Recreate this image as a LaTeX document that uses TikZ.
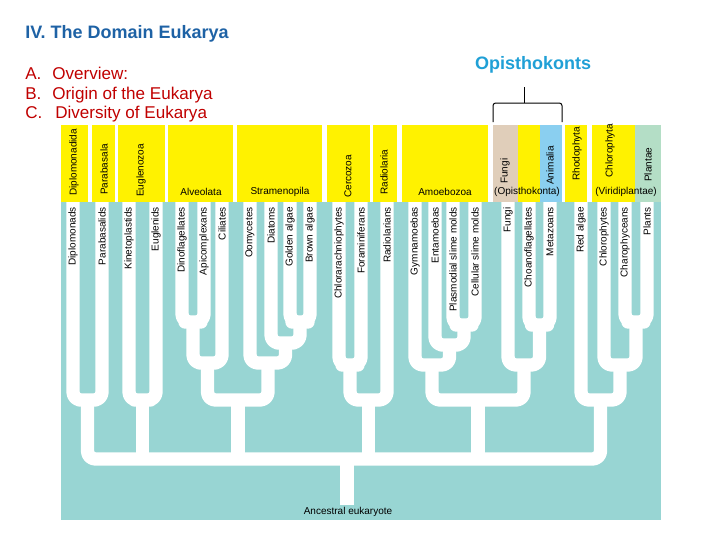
\documentclass[tikz,border=0pt]{standalone}
\usepackage{fontspec}
\setmainfont{Liberation Sans}
\usetikzlibrary{
  positioning,
  calc
  }
\definecolor{sea}{RGB}{152,213,211}
\definecolor{hdr}{RGB}{255,242,0}
\definecolor{fungtan}{RGB}{224,206,186}
\definecolor{animblue}{RGB}{138,207,240}
\definecolor{plantgreen}{RGB}{180,222,198}
\definecolor{titleblue}{RGB}{30,98,165}
\definecolor{listred}{RGB}{192,0,0}
\definecolor{opiblue}{RGB}{32,160,214}
\tikzset{
  branch/.style={draw=white, line width=10pt, line join=round, rounded corners=6pt},
  lab/.style={inner sep=0pt, font=\fontsize{7.5}{9}\selectfont},
  leaf/.style={lab, rotate=90, anchor=east},
  grprot/.style={lab, rotate=90, anchor=west},
  item/.style={anchor=base west, inner sep=0pt, text=listred, font=\fontsize{12.8}{15}\selectfont},
  headline/.style={anchor=base, inner sep=0pt, font=\fontsize{13.5}{16}\selectfont\bfseries},
}

\begin{document}
\begin{tikzpicture}[x=0.75pt, y=-0.75pt]
\useasboundingbox (0,0) rectangle (720,540);
% =========================================================
% (A) title and outline
% =========================================================
  \node[headline, anchor=base west, text=titleblue] (title) at (25,38) {IV. The Domain Eukarya};
  \node[item] (itA) at (25,79) {A.};
  \node[item] (itAt) at (52,79) {Overview:};
  \node[item] (itB) at (25,99) {B.};
  \node[item] (itBt) at (52,99) {Origin of the Eukarya};
  \node[item] (itC) at (25,118) {C.};
  \node[item] (itCt) at (55,118) {Diversity of Eukarya};
  \node[headline, text=opiblue] (opi) at (533,69) {Opisthokonts};
  % bracket over fungi and animals
  \coordinate (brL) at (493,122);
  \coordinate (brR) at (562,122);
  \coordinate (brM) at (524,103);
  \coordinate (brT) at (524,87);
  \draw[line width=0.75pt, rounded corners=2pt] (brL) |- (brM) -| (brR);
  \draw[line width=0.75pt] (brM) -- (brT);
% =========================================================
% (B) group header
% =========================================================
  \foreach \a/\b in {61/88, 92/115, 118/165, 168/233, 237/322, 327/370,
                     373/397, 402/488, 518/540, 565/587, 592/635}
    \fill[hdr] (\a,125) rectangle (\b,202);
  \fill[fungtan] (493,125) rectangle (518,202);
  \fill[animblue] (540,125) rectangle (562,202);
  \fill[plantgreen] (635,125) rectangle (661,202);
  \foreach \x/\y/\t in {74/196/Diplomonadida, 104/195/Parabasala, 141/197/Euglenozoa,
                        348/198/Cercozoa, 384/195/Radiolaria, 505/184/Fungi,
                        550/185/Animalia, 577/181/Rhodophyta, 610/178/Chlorophyta,
                        648/182/Plantae}
    \node[grprot] (h-\t) at (\x,\y) {\t};
  \node[lab] (h-alv) at (201,192) {Alveolata};
  \node[lab] (h-str) at (280,192) {Stramenopila};
  \node[lab] (h-amo) at (445,192) {Amoebozoa};
  \node[lab] (h-opi) at (527,192) {(Opisthokonta)};
  \node[lab] (h-vir) at (626,192) {(Viridiplantae)};
% =========================================================
% (C) tree
% =========================================================
  \fill[sea] (61,202) rectangle (661,520);
  \foreach \x/\n in {73/dip, 102/para, 129/kin, 156/eug, 182/dino, 204/api, 222/cil,
                     250/oom, 271/dia, 290/gold, 310/brown, 339/chlor, 361/foram,
                     387/radio, 415/gym, 435/ent, 453/plas, 475/cell, 508/fungi,
                     529/choa, 550/meta, 581/red, 604/chlo, 625/chara, 647/plant}
    \coordinate (\n) at (\x,202);
  \coordinate (jdp) at (87.5,400);
  \coordinate (jke) at (142.5,400);
  \coordinate (jda) at (193,322);
  \coordinate (jalv) at (207.5,363);
  \coordinate (jgb) at (300,322);
  \coordinate (jdgb) at (285.5,343);
  \coordinate (jstr) at (268,363);
  \coordinate (jas) at (238,400);
  \coordinate (jcf) at (350,365);
  \coordinate (jrh) at (368.5,400);
  \coordinate (jpc) at (464,325);
  \coordinate (jepc) at (449.5,345);
  \coordinate (jamo) at (432,365);
  \coordinate (jcm) at (539.5,325);
  \coordinate (jopi) at (524,365);
  \coordinate (jao) at (478,400);
  \coordinate (jcp) at (636,322);
  \coordinate (jgre) at (620,365);
  \coordinate (jarc) at (600.5,400);
  \coordinate (root) at (347,459);
  \coordinate (anc) at (347,505);
  % excavates
  \draw[branch] (dip) |- (jdp) -| (para);
  \draw[branch] (kin) |- (jke) -| (eug);
  % alveolates and stramenopiles
  \draw[branch] (dino) |- (jda) -| (api);
  \draw[branch] (jda) |- (jalv) -| (cil);
  \draw[branch] (gold) |- (jgb) -| (brown);
  \draw[branch] (dia) |- (jdgb) -| (jgb);
  \draw[branch] (oom) |- (jstr) -| (jdgb);
  \draw[branch] (jalv) |- (jas) -| (jstr);
  % rhizarians
  \draw[branch] (chlor) |- (jcf) -| (foram);
  \draw[branch] (jcf) |- (jrh) -| (radio);
  % amoebozoans and opisthokonts
  \draw[branch] (plas) |- (jpc) -| (cell);
  \draw[branch] (ent) |- (jepc) -| (jpc);
  \draw[branch] (gym) |- (jamo) -| (jepc);
  \draw[branch] (choa) |- (jcm) -| (meta);
  \draw[branch] (fungi) |- (jopi) -| (jcm);
  \draw[branch] (jamo) |- (jao) -| (jopi);
  % red and green algae
  \draw[branch] (chara) |- (jcp) -| (plant);
  \draw[branch] (chlo) |- (jgre) -| (jcp);
  \draw[branch] (red) |- (jarc) -| (jgre);
  % main line and root
  \draw[branch] (jdp) |- (root) -| (jarc);
  \foreach \j in {jke, jas, jrh, jao}
    \draw[branch] (\j) -- (\j |- root);
  \draw[branch] (root) -- (anc);
  \node[lab] (anc-l) at (348,512) {Ancestral eukaryote};
  % leaf names
  \foreach \n/\t in {dip/Diplomonads, para/Parabasalids, kin/Kinetoplastids,
                     eug/Euglenids, dino/Dinoflagellates, api/Apicomplexans,
                     cil/Ciliates, oom/Oomycetes, dia/Diatoms, gold/Golden algae,
                     brown/Brown algae, chlor/Chlorarachniophytes,
                     foram/Foraminiferans, radio/Radiolarians, gym/Gymnamoebas,
                     ent/Entamoebas, plas/Plasmodial slime molds,
                     cell/Cellular slime molds, fungi/Fungi,
                     choa/Choanoflagellates, meta/Metazoans, red/Red algae,
                     chlo/Chlorophytes, chara/Charophyceans, plant/Plants}
    \node[leaf] (\n-l) at ($(\n)+(0,5)$) {\t};
\end{tikzpicture}
\end{document}
